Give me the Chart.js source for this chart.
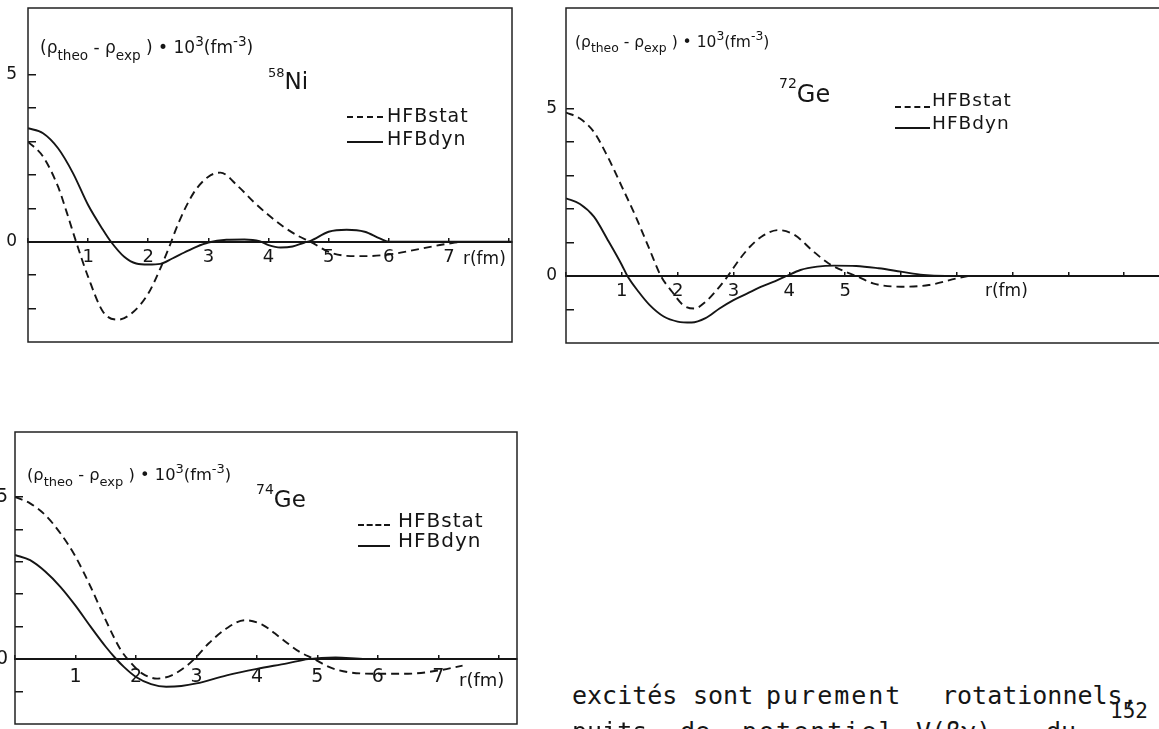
<!DOCTYPE html>
<html>
<head>
<meta charset="utf-8">
<script src="https://cdn.jsdelivr.net/npm/chart.js@4.4.1/dist/chart.umd.min.js"></script>
<style>
  body { margin: 0; background: #fff; }
  #page { position: relative; width: 1159px; height: 729px; overflow: hidden; background: #fff;
          font-family: "DejaVu Sans", sans-serif; color: #151515; }
  canvas { position: absolute; }
  .t { position: absolute; white-space: nowrap; line-height: 1; }
  .t sub { font-size: 0.8em; vertical-align: -0.45em; }
  .t sup { font-size: 0.8em; vertical-align: 0.55em; }
  .dash { position: absolute; border-top: 2px dashed #151515; height: 0; }
  .solid { position: absolute; border-top: 2px solid #151515; height: 0; }
  .mono { position: absolute; white-space: nowrap; line-height: 1; font-family: "DejaVu Sans Mono", monospace; font-size: 25px; }
</style>
</head>
<body>
<div id="page">
  <canvas id="cNi" width="516" height="346" style="left:0;top:0"></canvas>
  <canvas id="cGe72" width="640" height="347" style="left:540px;top:0"></canvas>
  <canvas id="cGe74" width="520" height="308" style="left:0;top:420px"></canvas>

  <!-- 58Ni -->
  <div class="t" style="left:40px;top:35px;font-size:17px">(ρ<sub>theo</sub> - ρ<sub>exp</sub> ) • 10<sup>3</sup>(fm<sup>-3</sup>)</div>
  <div class="t" style="left:268px;top:66px;font-size:23px"><span style="font-size:13px;vertical-align:12px">58</span>Ni</div>
  <div class="dash" style="left:347px;top:116px;width:36px"></div>
  <div class="solid" style="left:347px;top:141px;width:36px"></div>
  <div class="t" style="left:387px;top:106px;font-size:19px;letter-spacing:1px">HFBstat</div>
  <div class="t" style="left:387px;top:129px;font-size:19px;letter-spacing:1px">HFBdyn</div>
  <div class="t" style="left:463px;top:250px;font-size:17px">r(fm)</div>

  <!-- 72Ge -->
  <div class="t" style="left:575px;top:30px;font-size:15.5px">(ρ<sub>theo</sub> - ρ<sub>exp</sub> ) • 10<sup>3</sup>(fm<sup>-3</sup>)</div>
  <div class="t" style="left:779px;top:76px;font-size:24px"><span style="font-size:14px;vertical-align:14px">72</span>Ge</div>
  <div class="dash" style="left:895px;top:106px;width:35px"></div>
  <div class="solid" style="left:895px;top:127px;width:35px"></div>
  <div class="t" style="left:932px;top:91px;font-size:18.5px;letter-spacing:1px">HFBstat</div>
  <div class="t" style="left:932px;top:114px;font-size:18.5px;letter-spacing:1px">HFBdyn</div>
  <div class="t" style="left:985px;top:282px;font-size:17px">r(fm)</div>

  <!-- 74Ge -->
  <div class="t" style="left:27px;top:462px;font-size:16.3px">(ρ<sub>theo</sub> - ρ<sub>exp</sub> ) • 10<sup>3</sup>(fm<sup>-3</sup>)</div>
  <div class="t" style="left:256px;top:482px;font-size:23px"><span style="font-size:14px;vertical-align:13px">74</span>Ge</div>
  <div class="dash" style="left:358px;top:524px;width:32px"></div>
  <div class="solid" style="left:358px;top:545px;width:32px"></div>
  <div class="t" style="left:398px;top:510px;font-size:20px;letter-spacing:1px">HFBstat</div>
  <div class="t" style="left:398px;top:530px;font-size:20px;letter-spacing:1px">HFBdyn</div>
  <div class="t" style="left:459px;top:671px;font-size:18px">r(fm)</div>

  <!-- texte courant de la page -->
  <div class="mono" style="left:572px;top:683px">excités</div>
  <div class="mono" style="left:693px;top:683px">sont</div>
  <div class="mono" style="left:766px;top:683px;letter-spacing:2px">purement</div>
  <div class="mono" style="left:942px;top:683px">rotationnels,</div>
  <div class="mono" style="left:1110px;top:701px;font-size:21px">152</div>
  <div class="mono" style="left:572px;top:719px">puits</div>
  <div class="mono" style="left:680px;top:719px">de</div>
  <div class="mono" style="left:742px;top:719px;letter-spacing:2px">potentiel</div>
  <div class="mono" style="left:916px;top:719px">V(βγ)</div>
  <div class="mono" style="left:1046px;top:719px">du</div>
</div>

<script>
// r en fm, valeurs en 10^-3 fm^-3

// 58Ni
const niStatR = [0, 0.25, 0.5, 0.65, 0.8, 1.0, 1.25, 1.5, 1.75, 2.0, 2.2, 2.35, 2.5, 2.75, 3.0, 3.2, 3.5, 3.75, 4.0, 4.25, 4.5, 4.7, 5.0, 5.3, 5.6, 6.0, 6.5, 6.9, 7.2];
const niStat = [3.0, 2.55, 1.65, 0.85, 0.0, -1.05, -2.1, -2.33, -2.1, -1.55, -0.8, -0.15, 0.55, 1.45, 1.95, 2.07, 1.65, 1.2, 0.8, 0.45, 0.17, 0.0, -0.3, -0.42, -0.43, -0.38, -0.22, -0.08, 0];
const niDynR = [0, 0.25, 0.5, 0.75, 1.0, 1.25, 1.38, 1.6, 1.8, 2.0, 2.2, 2.4, 2.6, 2.8, 3.0, 3.3, 3.6, 3.85, 4.0, 4.2, 4.4, 4.6, 4.7, 5.0, 5.3, 5.6, 5.85, 6.0, 7.0, 8.05];
const niDyn = [3.4, 3.25, 2.8, 2.05, 1.1, 0.35, 0.0, -0.45, -0.65, -0.68, -0.66, -0.5, -0.32, -0.15, -0.02, 0.06, 0.07, 0.02, -0.1, -0.17, -0.14, -0.02, 0.03, 0.3, 0.36, 0.3, 0.1, 0.0, 0, 0];

// 72Ge
const ge72StatR = [0, 0.25, 0.5, 0.75, 1.0, 1.25, 1.5, 1.7, 1.9, 2.1, 2.3, 2.5, 2.7, 2.9, 3.1, 3.3, 3.5, 3.8, 4.1, 4.4, 4.7, 5.0, 5.2, 5.5, 6.0, 6.5, 7.0, 7.2];
const ge72Stat = [4.88, 4.7, 4.3, 3.55, 2.67, 1.77, 0.78, 0.0, -0.47, -0.87, -0.97, -0.77, -0.42, 0.0, 0.48, 0.88, 1.17, 1.37, 1.22, 0.78, 0.38, 0.13, 0.0, -0.22, -0.32, -0.27, -0.07, 0];
const ge72DynR = [0, 0.25, 0.5, 0.75, 1.0, 1.1, 1.3, 1.5, 1.75, 2.0, 2.25, 2.5, 2.75, 3.0, 3.25, 3.5, 3.75, 3.95, 4.2, 4.5, 4.8, 5.2, 5.6, 6.0, 6.4, 6.8, 10.9];
const ge72Dyn = [2.32, 2.15, 1.77, 1.07, 0.33, 0, -0.47, -0.87, -1.21, -1.36, -1.39, -1.26, -0.97, -0.72, -0.52, -0.32, -0.15, 0, 0.18, 0.28, 0.31, 0.3, 0.23, 0.13, 0.03, 0, 0];

// 74Ge
const ge74StatR = [0, 0.25, 0.5, 0.75, 1.0, 1.25, 1.5, 1.75, 1.9, 2.1, 2.35, 2.6, 2.85, 3.0, 3.2, 3.5, 3.8, 4.1, 4.4, 4.7, 4.95, 5.2, 5.5, 6.0, 6.5, 7.0, 7.4];
const ge74Stat = [5.0, 4.8, 4.44, 3.88, 3.16, 2.23, 1.2, 0.28, -0.08, -0.44, -0.6, -0.49, -0.19, 0.07, 0.48, 0.95, 1.2, 1.05, 0.64, 0.23, 0, -0.25, -0.4, -0.45, -0.45, -0.35, -0.2];
const ge74DynR = [0, 0.25, 0.5, 0.75, 1.0, 1.25, 1.5, 1.65, 1.8, 2.0, 2.25, 2.5, 2.75, 3.0, 3.5, 4.0, 4.5, 4.85, 5.3, 5.8, 8.3];
const ge74Dyn = [3.21, 3.05, 2.7, 2.23, 1.65, 1.0, 0.38, 0.05, -0.24, -0.55, -0.77, -0.85, -0.83, -0.75, -0.5, -0.3, -0.13, 0, 0.05, 0, 0];

// graduations
const niXTicks = [1, 2, 3, 4, 5, 6, 7];
const ge72XTicks = [1, 2, 3, 4, 5];
const ge74XTicks = [1, 2, 3, 4, 5, 6, 7];
const yLabelled = [5, 0];

const INK = '#151515';

// cadre autour de la zone du graphe
const frame = {
    id: 'frame',
    afterDraw(chart) {
        const {ctx, chartArea: a} = chart;
        ctx.save();
        ctx.strokeStyle = '#222';
        ctx.lineWidth = 1.5;
        ctx.strokeRect(a.left, a.top, a.right - a.left, a.bottom - a.top);
        ctx.restore();
    }
};

function toPoints(rs, vs) {
    return rs.map((r, i) => ({x: r, y: vs[i]}));
}

function noPadding(s) {
    s.paddingLeft = 0; s.paddingRight = 0; s.paddingTop = 0; s.paddingBottom = 0;
}

function makePanel(id, o) {
    const ctx = document.getElementById(id).getContext('2d');
    const line = {pointRadius: 0, borderColor: INK, borderWidth: 1.9, fill: false, cubicInterpolationMode: 'monotone'};
    return new Chart(ctx, {
        type: 'line',
        data: {
            datasets: [
                {...line, label: 'HFBstat', data: toPoints(o.statR, o.stat), borderDash: [8, 5]},
                {...line, label: 'HFBdyn', data: toPoints(o.dynR, o.dyn)}
            ]
        },
        options: {
            responsive: false,
            animation: false,
            events: [],
            layout: {padding: o.pad},
            plugins: {legend: {display: false}, tooltip: {enabled: false}},
            scales: {
                x: {
                    type: 'linear', min: 0, max: o.xMax, position: {y: 0},
                    ticks: {
                        stepSize: 1, includeBounds: false, autoSkip: false, maxRotation: 0,
                        padding: o.xPad, color: INK,
                        font: {family: 'DejaVu Sans', size: o.xFont},
                        callback: v => o.xTicks.includes(v) ? String(v) : ''
                    },
                    grid: {drawOnChartArea: false, tickLength: -5, color: INK, lineWidth: 1.5},
                    border: {display: true, color: INK, width: 2},
                    afterFit: s => { s.height = 0; noPadding(s); }
                },
                y: {
                    type: 'linear', min: o.yMin, max: o.yMax, position: 'left',
                    ticks: {
                        stepSize: 1, includeBounds: false, autoSkip: false,
                        padding: o.yPad, color: INK,
                        font: {family: 'DejaVu Sans', size: o.yFont},
                        callback: v => yLabelled.includes(v) ? String(v) : ''
                    },
                    grid: {
                        drawOnChartArea: false, tickLength: -8, lineWidth: 1.5,
                        color: c => (c.tick && c.tick.value >= o.yTickLow && c.tick.value <= 5) ? INK : 'rgba(0,0,0,0)'
                    },
                    border: {display: false},
                    afterFit: s => { s.width = o.yW; noPadding(s); }
                }
            }
        },
        plugins: [frame]
    });
}

makePanel('cNi', {
    statR: niStatR, stat: niStat, dynR: niDynR, dyn: niDyn,
    xMax: 8.05, yMin: -3, yMax: 7, xTicks: niXTicks, yTickLow: -2,
    pad: {left: 0, top: 8, right: 4, bottom: 4}, yW: 28, yPad: 19, xPad: 10, xFont: 18, yFont: 17
});

makePanel('cGe72', {
    statR: ge72StatR, stat: ge72Stat, dynR: ge72DynR, dyn: ge72Dyn,
    xMax: 10.91, yMin: -2, yMax: 8, xTicks: ge72XTicks, yTickLow: -1,
    pad: {left: 0, top: 8, right: 5, bottom: 4}, yW: 26, yPad: 17, xPad: 10, xFont: 18, yFont: 17
});

makePanel('cGe74', {
    statR: ge74StatR, stat: ge74Stat, dynR: ge74DynR, dyn: ge74Dyn,
    xMax: 8.3, yMin: -2, yMax: 7, xTicks: ge74XTicks, yTickLow: -1,
    pad: {left: 0, top: 12, right: 3, bottom: 4}, yW: 15, yPad: 15, xPad: 12, xFont: 19, yFont: 19
});
</script>
</body>
</html>
